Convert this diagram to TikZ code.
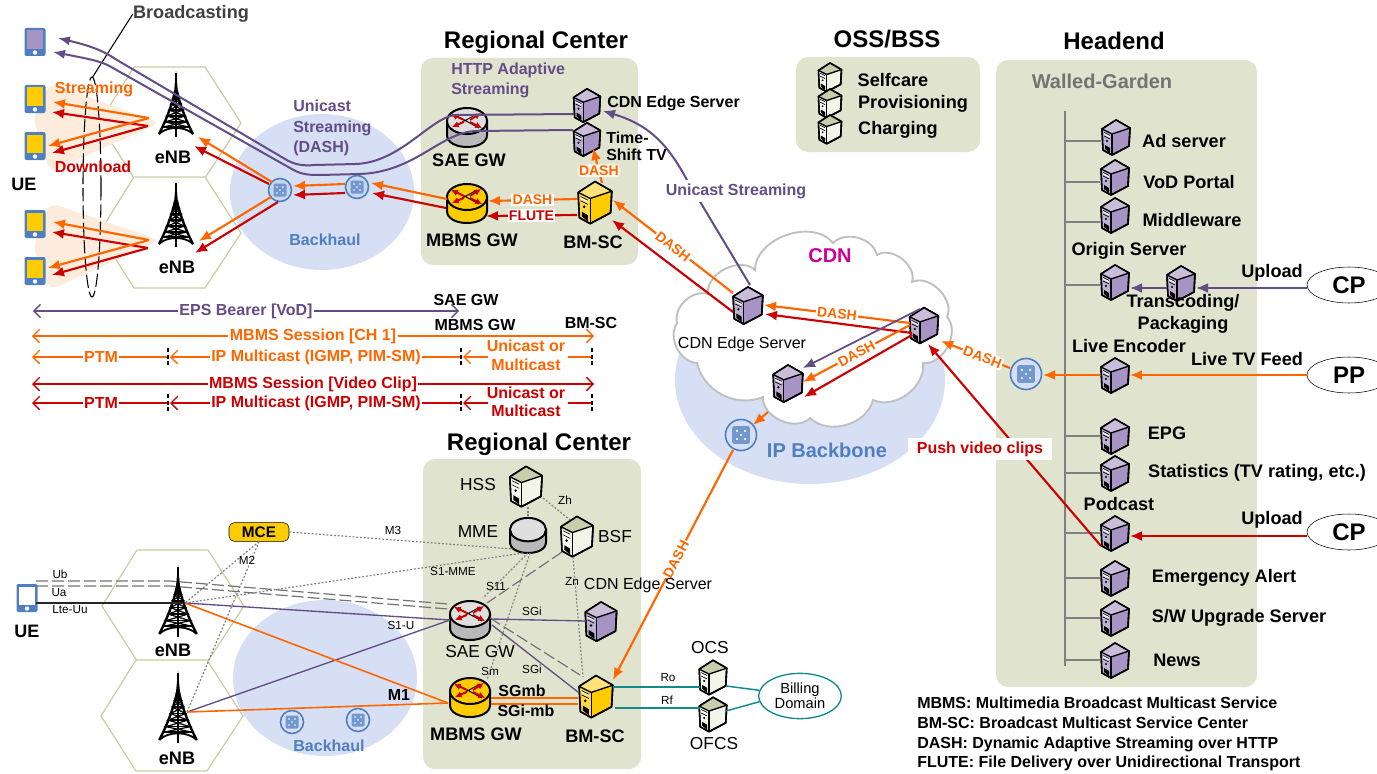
\documentclass[tikz,border=0pt]{standalone}
\usepackage{fontspec}
\setmainfont{Liberation Sans}
\usepackage{tikz}
\usetikzlibrary{arrows.meta}
\usetikzlibrary{shapes.geometric}
\definecolor{panel}{HTML}{E0E4CF}
\definecolor{haze}{HTML}{D6DFF3}
\definecolor{glow}{HTML}{FDEBDC}
\definecolor{hexline}{HTML}{C8CDA0}
\definecolor{cloudline}{HTML}{BFBFBF}
\definecolor{ornge}{HTML}{FF6600}
\definecolor{rd}{HTML}{CC0000}
\definecolor{purp}{HTML}{634D87}
\definecolor{purpfill}{HTML}{A894C4}
\definecolor{purptop}{HTML}{C9BDD9}
\definecolor{blu}{HTML}{4F7FC0}
\definecolor{yel}{HTML}{FFCC00}
\definecolor{yeltop}{HTML}{FFE27A}
\definecolor{teal2}{HTML}{138A8A}
\definecolor{srvlight}{HTML}{F3F5E8}
\definecolor{srvtop}{HTML}{C9CDAB}
\definecolor{mag}{HTML}{CC0099}
\begin{document}
\begin{tikzpicture}[x=0.75pt, y=-0.75pt,
    boldlbl/.style = {font=\bfseries\fontsize{13.6}{15}\selectfont, inner sep=0pt},
    midlbl/.style = {font=\bfseries\fontsize{12}{14}\selectfont, inner sep=0pt},
    reglbl/.style = {font=\fontsize{13}{15}\selectfont, inner sep=0pt},
    smalllbl/.style = {font=\fontsize{8.8}{10}\selectfont, inner sep=0pt},
    headlbl/.style = {font=\bfseries\fontsize{18}{20}\selectfont, inner sep=0pt},
    dashlbl/.style = {font=\bfseries\fontsize{10.5}{13}\selectfont, text=ornge, fill=white, inner sep=1pt},
    panelbox/.style = {fill=panel, rounded corners=9pt},
    srvbox/.style = {minimum width=22pt, minimum height=28pt, inner sep=0pt},
    dotline/.style = {gray, dash pattern=on 1.4pt off 1.4pt, line width=0.9pt},
    gapline/.style = {gray!90!black, dash pattern=on 9pt off 3pt, line width=0.9pt},
    orangeline/.style = {ornge, line width=1.6pt},
    redline/.style = {rd, line width=1.6pt},
    purpleline/.style = {purp, line width=1.5pt},
    tealline/.style = {teal2, line width=1.1pt},
    arrowed/.style = {-{Latex[length=9pt,width=7.5pt]}},
    span/.style = {line width=1pt, -{Straight Barb[length=5pt,width=10pt]}},
    srcnode/.style = {draw, fill=white, ellipse, minimum width=63pt, minimum height=27pt, inner sep=0pt, font=\bfseries\fontsize{18}{20}\selectfont},
    pics/srv/.style n args = {2}{code={
        \filldraw[fill=#1, draw=black, line width=1.2pt, line join=round]
            (-14,-8) -- (0,-17) -- (14,-9) -- (13,9) -- (-4,18) -- (-13,13) -- cycle;
        \fill[#2] (-14,-8) -- (0,-17) -- (14,-9) -- (-4,-3) -- cycle;
        \fill[#1!75!white] (-13.5,-7.5) -- (-4,-3) -- (-4,17) -- (-12.5,12.5) -- cycle;
        \draw[line width=1pt] (-14,-8) -- (-4,-3) -- (14,-9);
        \draw[line width=1pt] (-4,-3) -- (-4,18);
        \draw[black, line width=1.2pt, line join=round] (-14,-8) -- (0,-17) -- (14,-9) -- (13,9) -- (-4,18) -- (-13,13) -- cycle;
        \fill[black] (-11,8) -- (-6,11) -- (-6,16) -- (-11,12) -- cycle;
        \draw[white, line width=1.2pt] (-12,-3.5) -- (-6,-0.5);
        \draw[line width=0.5pt] (-12,-4.5) -- (-6,-1.5) (-12,-1) -- (-6,2);
        \fill[black] (-9,4) circle (1.2);
    }},
    pics/cyl/.style n args = {2}{code={
        \filldraw[fill=#2, draw=black, line width=1.5pt]
            (-20,-6) -- (-20,8) .. controls (-20,24) and (20,24) .. (20,8) -- (20,-6) -- cycle;
        \filldraw[fill=#1, draw=black, line width=1.5pt] (0,-6) ellipse [x radius=20, y radius=13];
    }},
    pics/crossing/.style = {code={
        \draw[black, line width=0.7pt] (-12,-12) -- (12,1) (-12,-1) -- (10,-13);
        \draw[rd, line width=1.4pt, -{Latex[length=5pt,width=5pt]}] (-3,-7) -- (-16,-13);
        \draw[rd, line width=1.4pt, -{Latex[length=5pt,width=5pt]}] (-3,-5) -- (-15,0);
        \draw[rd, line width=1.4pt, -{Latex[length=5pt,width=5pt]}] (3,-7) -- (14,-14);
        \draw[rd, line width=1.4pt, -{Latex[length=5pt,width=5pt]}] (3,-5) -- (15,1);
    }},
    pics/hub/.style = {code={
        \filldraw[fill=#1, draw=blu, line width=1.2pt] (0,0) circle (11.5);
        \fill[blu!80!white, rounded corners=1pt] (-6.5,-6.5) rectangle (6.5,6.5);
        \foreach \dx/\dy in {-3/-3,3/-3,0/0,-3/3,3/3} {\fill[white] (\dx,\dy) circle (0.9);}
    }},
    pics/phone/.style = {code={
        \fill[blu, rounded corners=1.5pt] (-10.5,-14) rectangle (10.5,14);
        \fill[#1] (-8,-11.5) rectangle (8,7);
        \fill[white] (0,10.5) circle (2.2);
    }},
    pics/tower/.style = {code={
        \fill (0,-34) -- (2.6,-6) -- (-2.6,-6) -- cycle;
        \draw[line width=1.8pt, line join=round] (-17,29) .. controls (-8,12) and (-2.5,-6) .. (-1,-14);
        \draw[line width=1.8pt, line join=round] (17,29) .. controls (8,12) and (2.5,-6) .. (1,-14);
        \draw[line width=2.2pt] (0,-32) -- (0,32);
        \draw[line width=1.4pt] (-17,29) .. controls (-9,21) and (9,21) .. (17,29);
        \draw[line width=1.1pt] (-4,-7) -- (4,-7) (-5.5,-1) -- (5.5,-1) (-7,5) -- (7,5) (-9,11) -- (9,11) (-11,17) -- (11,17) (-13,22) -- (13,22);
        \draw[line width=0.9pt] (-4,-7) -- (5.5,-1) -- (-7,5) -- (9,11) -- (-11,17) -- (13,22)
            (4,-7) -- (-5.5,-1) -- (7,5) -- (-9,11) -- (11,17) -- (-13,22);
    }}
  ]
  \useasboundingbox (0,0) rectangle (1377,774);

  % panels and haze
  \fill[panelbox] (421,58) rectangle (638,265);
  \fill[panelbox] (796,57) rectangle (980,152);
  \fill[panelbox] (996,60) rectangle (1257,687);
  \fill[panelbox] (423,459) rectangle (641,769);
  \fill[haze] (322,192) ellipse [x radius=92, y radius=78];
  \fill[haze] (325,678) ellipse [x radius=92, y radius=78];
  \fill[haze] (810,380) ellipse [x radius=135, y radius=104];

  % cells
  \foreach \cx/\cy in {170/123, 170/233, 173/606, 172/716} {
    \draw[hexline, fill=white, line width=0.9pt] (\cx-36,\cy-56) -- (\cx+35,\cy-56) -- (\cx+71,\cy) -- (\cx+35,\cy+55) -- (\cx-36,\cy+55) -- (\cx-71,\cy) -- cycle;
  }
  \fill[glow, rounded corners=6pt] (50,83) -- (160,123) -- (50,172) -- (33,117) -- cycle;
  \fill[glow, rounded corners=6pt] (50,203) -- (160,240) -- (50,290) -- (33,247) -- cycle;

  % cdn cloud
  \draw[cloudline, fill=white, line width=1.4pt] (708,294) to[bend left=70] (755,270) to[bend left=70] (833,243)
      to[bend left=60] (877,255) to[bend left=70] (912,282) to[bend left=70] (947,317) to[bend left=70] (923,363)
      to[bend left=60] (873,400) to[bend left=60] (810,418) to[bend left=70] (763,397) to[bend left=50] (697,363)
      to[bend left=60] (677,323) to[bend left=60] (708,294);

  % headend bus
  \node[inner sep=0pt] (bustop) at (1065,110) {};
  \node[inner sep=0pt] (busend) at (1065,667) {};
  \draw[gray, line width=1.2pt] (bustop) -- (busend);

  % devices
  \node[inner sep=0pt] (ueP) at (35,42) {};   \pic at (ueP) {phone=purpfill};
  \node[inner sep=0pt] (ueA) at (35,99) {};   \pic at (ueA) {phone=yel};
  \node[inner sep=0pt] (ueB) at (35,146) {};  \pic at (ueB) {phone=yel};
  \node[inner sep=0pt] (ueC) at (35,224) {};  \pic at (ueC) {phone=yel};
  \node[inner sep=0pt] (ueD) at (35,271) {};  \pic at (ueD) {phone=yel};
  \node[inner sep=0pt] (ueE) at (27,598) {};  \pic at (ueE) {phone=white};

  \node[inner sep=0pt] (enbA) at (176,105) {};  \pic at (enbA) {tower};
  \node[inner sep=0pt] (enbB) at (176,215) {};  \pic at (enbB) {tower};
  \node[inner sep=0pt] (enbC) at (178,602) {};  \pic[scale=1.1] at (enbC) {tower};
  \node[inner sep=0pt] (enbD) at (178,708) {};  \pic[scale=1.1] at (enbD) {tower};

  \node[inner sep=0pt] (hubA) at (280,190) {};  \pic at (hubA) {hub=haze!50!blu!50!white};
  \node[inner sep=0pt] (hubB) at (357,187) {};  \pic at (hubB) {hub=haze!50!blu!50!white};
  \node[inner sep=0pt] (hubC) at (292,722) {};  \pic at (hubC) {hub=haze};
  \node[inner sep=0pt] (hubD) at (358,720) {};  \pic at (hubD) {hub=haze};
  \node[inner sep=0pt] (hubIP) at (741,435) {}; \pic[scale=1.35] at (hubIP) {hub=haze};
  \node[inner sep=0pt] (hubLive) at (1026,374) {}; \pic[scale=1.35] at (hubLive) {hub=haze};

  \node[inner sep=0pt] (saeTop) at (467,127) {};  \pic at (saeTop) {cyl={gray!25}{gray!55}};  \pic at (saeTop) {crossing};
  \node[inner sep=0pt] (mbmsTop) at (467,203) {}; \pic at (mbmsTop) {cyl={yel}{yel}};         \pic at (mbmsTop) {crossing};
  \node[inner sep=0pt] (saeLow) at (470,620) {};  \pic at (saeLow) {cyl={gray!25}{gray!55}};  \pic at (saeLow) {crossing};
  \node[inner sep=0pt] (mbmsLow) at (470,697) {}; \pic at (mbmsLow) {cyl={yel}{yel}};         \pic at (mbmsLow) {crossing};
  \node[inner sep=0pt] (mme) at (528,535) {};     \pic[scale=0.9] at (mme) {cyl={gray!25}{gray!55}};

  \foreach \name/\x/\y/\sc in {edgeTop/587/105/0.95, shiftTV/587/139/0.95, cdnA/748/305/1.06, cdnB/924/325/1.02, cdnC/788/383/1.06,
      adsrv/1116/137/1, vod/1115/177/1, mware/1115/215/1, origin/1115/282/1, transc/1181/283/1, encoder/1115/375/1,
      epg/1115/436/1, stats/1115/473/1, podcast/1115/533/1, alert/1115/578/1, upgrade/1115/618/1, news/1115/660/1, edgeLow/601/621/1.12} {
    \node[srvbox] (\name) at (\x,\y) {};
    \pic[scale=\sc] at (\name) {srv={purpfill}{purptop}};
  }
  \foreach \name/\x/\y/\sc in {care/830/77/0.82, prov/830/103/0.82, charge/830/129/0.82, hss/526/486/1.15, bsf/577/536/1.15, ocs/713/677/0.98, ofcs/713/714/0.98} {
    \node[srvbox] (\name) at (\x,\y) {};
    \pic[scale=\sc] at (\name) {srv={srvlight}{srvtop}};
  }
  \node[srvbox] (bmTop) at (595,202) {};  \pic[scale=1.2] at (bmTop) {srv={yel}{yeltop}};
  \node[srvbox] (bmLow) at (596,696) {};  \pic[scale=1.2] at (bmLow) {srv={yel}{yeltop}};

  \foreach \name/\y in {adsrv/141, vod/182, mware/222, origin/285, encoder/375, epg/436, stats/473, podcast/533, alert/578, upgrade/618, news/660} {
    \draw[gray, line width=1pt] (\name.west |- 0,\y) -- (1065,\y);
  }

  % broadcast marker
  \node[inner sep=0pt] (bcast) at (92,187) {};
  \node[inner sep=0pt] (bcastTop) at (92,78) {};
  \node[boldlbl, text=black!75] (bcastLbl) at (191,14) {Broadcasting};
  \draw[black, line width=0.8pt, dash pattern=on 10pt off 3pt] (bcast) ellipse [x radius=9, y radius=110];
  \draw[black, line width=0.8pt] (bcastTop) -- (bcastLbl.west);

  % streaming to the phones
  \draw[orangeline, arrowed] ([shift={(-27,13)}]enbA.center) -- ([shift={(18,3)}]ueA.center);
  \draw[redline, arrowed] ([shift={(-28,21)}]enbA.center) -- ([shift={(17,13)}]ueA.center);
  \draw[orangeline, arrowed] ([shift={(-27,13)}]enbA.center) -- ([shift={(13,0)}]ueB.center);
  \draw[redline, arrowed] ([shift={(-28,21)}]enbA.center) -- ([shift={(17,7)}]ueB.center);
  \draw[orangeline, arrowed] ([shift={(-27,25)}]enbB.center) -- ([shift={(18,-2)}]ueC.center);
  \draw[redline, arrowed] ([shift={(-28,33)}]enbB.center) -- ([shift={(17,8)}]ueC.center);
  \draw[orangeline, arrowed] ([shift={(-27,25)}]enbB.center) -- ([shift={(13,-3)}]ueD.center);
  \draw[redline, arrowed] ([shift={(-28,33)}]enbB.center) -- ([shift={(17,4)}]ueD.center);
  % backhaul, upper
  \draw[orangeline, arrowed] ([shift={(-8,-8)}]hubA.center) -- ([shift={(22,32)}]enbA.center);
  \draw[redline, arrowed] ([shift={(-11,-6)}]hubA.center) -- ([shift={(18,41)}]enbA.center);
  \draw[orangeline, arrowed] ([shift={(-9,7)}]hubA.center) -- ([shift={(23,26)}]enbB.center);
  \draw[redline, arrowed] ([shift={(-2,12)}]hubA.center) -- ([shift={(19,38)}]enbB.center);
  \draw[orangeline, arrowed] ([shift={(-12,-3)}]hubB.center) -- ([shift={(13,-4)}]hubA.center);
  \draw[redline, arrowed] ([shift={(-12,6)}]hubB.center) -- ([shift={(13,5)}]hubA.center);
  \draw[orangeline, arrowed] ([shift={(-20,-4)}]mbmsTop.center) -- ([shift={(14,-4)}]hubB.center);
  \draw[redline, arrowed] ([shift={(-21,5)}]mbmsTop.center) -- ([shift={(15,6)}]hubB.center);
  % regional center, upper
  \draw[orangeline, arrowed] ([shift={(-18,-3)}]bmTop.center) -- node[dashlbl, pos=.5] (dashMb) {DASH} ([shift={(21,-2)}]mbmsTop.center);
  \draw[redline, arrowed] ([shift={(-18,13)}]bmTop.center) -- node[font=\bfseries\fontsize{10.5}{13}\selectfont, text=rd, fill=white, inner sep=1pt, pos=.5] (fluteMb) {FLUTE} ([shift={(19,13)}]mbmsTop.center);
  \draw[orangeline, arrowed] ([shift={(7,-19)}]bmTop.center) -- node[dashlbl, fill=white!70!panel, rounded corners=3pt, pos=.35] (dashTv) {DASH} ([shift={(6,9)}]shiftTV.center);
  \draw[orangeline, arrowed] ([shift={(-15,-12)}]cdnA.center) -- node[dashlbl, rotate=-38, pos=.5] (dashCdn) {DASH} ([shift={(18,-2)}]bmTop.center);
  \draw[redline, arrowed] ([shift={(-15,7)}]cdnA.center) -- ([shift={(17,18)}]bmTop.center);
  \draw[purpleline, arrowed] ([shift={(2,-20)}]cdnA.center) -- (687,180) .. controls (668,145) and (650,125) .. ([shift={(16,6)}]edgeTop.center);
  \node[midlbl, text=purp, fill=white, inner xsep=2pt, inner ysep=3pt] (uniLbl) at (736,191) {Unicast Streaming};
  % unicast pair to the phone
  \draw[purpleline, -{Latex[length=9pt,width=7pt]}] ([shift={(-14,9)}]edgeTop.center) -- (455,115) .. controls (430,118) and (400,163) .. (355,164) -- (315,165)
      .. controls (303,166) and (295,165) .. (285,159) -- (117,60) .. controls (105,52) and (95,47) .. ([shift={(23,-4)}]ueP.center);
  \draw[purpleline, -{Latex[length=9pt,width=7pt]}] ([shift={(-14,-9)}]shiftTV.center) -- (475,131) .. controls (440,133) and (415,172) .. (360,174) -- (320,175)
      .. controls (306,175) and (300,174) .. (290,168) -- (113,68) .. controls (103,62) and (95,60) .. ([shift={(18,10)}]ueP.center);

  % inside the cdn
  \draw[orangeline, arrowed] ([shift={(-14,-2)}]cdnB.center) -- node[dashlbl, rotate=-7, pos=.5] (dashAB) {DASH} ([shift={(16,0)}]cdnA.center);
  \draw[redline, arrowed] ([shift={(-12,8)}]cdnB.center) -- ([shift={(17,9)}]cdnA.center);
  \draw[purp, line width=1.3pt, arrowed] ([shift={(-4,-16)}]cdnB.center) -- ([shift={(15,-15)}]cdnC.center);
  \draw[orangeline, arrowed] ([shift={(-14,0)}]cdnB.center) -- node[dashlbl, rotate=28, pos=.5] (dashBC) {DASH} ([shift={(15,-1)}]cdnC.center);
  \draw[redline, arrowed] ([shift={(-12,10)}]cdnB.center) -- ([shift={(16,14)}]cdnC.center);
  \draw[orangeline, arrowed] ([shift={(-16,-6)}]hubLive.center) -- node[dashlbl, rotate=-21, pos=.4] (dashLive) {DASH} ([shift={(17,16)}]cdnB.center);
  \draw[orangeline, arrowed] ([shift={(-20,29)}]cdnC.center) -- ([shift={(12,-10)}]hubIP.center);
  \draw[orangeline, arrowed] (encoder.west) -- ([shift={(17,1)}]hubLive.center);
  \draw[redline, arrowed] ([shift={(-14,13)}]podcast.center) -- ([shift={(4,19)}]cdnB.center);
  \node[midlbl, text=rd, fill=white, minimum width=108pt, minimum height=17pt] (pushLbl) at (980,449) {Push video clips};
  \draw[orangeline, arrowed] ([shift={(-8,15)}]hubIP.center) -- node[dashlbl, rotate=62, pos=.475] (dashLow) {DASH} ([shift={(17,-16)}]bmLow.center);

  % sources
  \node[srcnode] (cpA) at (1349,285) {CP};
  \node[srcnode] (pp) at (1349,375) {PP};
  \node[srcnode] (cpB) at (1349,532) {CP};
  \draw[purp, line width=1.6pt, arrowed] ([shift={(0,3)}]cpA.west) -- ([shift={(15,5)}]transc.center);
  \draw[purp, line width=1.6pt, arrowed] ([shift={(-14,5)}]transc.center) -- ([shift={(15,6)}]origin.center);
  \draw[orangeline, arrowed] (pp.west) -- (encoder.east);
  \draw[redline, arrowed] ([shift={(0,4)}]cpB.west) -- ([shift={(15,3)}]podcast.center);

  % lower regional center
  \draw[gapline] ([shift={(9,-17)}]ueE.center) -- (170,581) -- ([shift={(-22,-16)}]saeLow.center);
  \draw[gapline] ([shift={(9,-12)}]ueE.center) -- (170,586) -- ([shift={(-22,-11)}]saeLow.center);
  \draw[black!85, line width=1pt] ([shift={(9,5)}]ueE.center) -- ([shift={(5,1)}]enbC.center);
  \draw[purp, line width=1pt] ([shift={(7,1)}]enbC.center) -- ([shift={(-20,0)}]saeLow.center);
  \draw[purp, line width=1pt] ([shift={(9,4)}]enbD.center) -- ([shift={(-20,0)}]saeLow.center);
  \draw[ornge, line width=1.2pt] ([shift={(7,1)}]enbC.center) -- ([shift={(-22,6)}]mbmsLow.center);
  \draw[ornge, line width=1.2pt] ([shift={(9,4)}]enbD.center) -- ([shift={(-22,6)}]mbmsLow.center);
  \node[draw=black, fill=yel, rounded corners=4pt, minimum width=45pt, minimum height=14pt, inner sep=0pt, font=\bfseries\fontsize{11.5}{13}\selectfont] (mce) at (259,532) {MCE};
  \draw[dotline] (mce.east) -- ([shift={(-15,14)}]mme.center);
  \draw[dotline] ([shift={(7,1)}]enbC.center) -- ([shift={(-5,18)}]mme.center);
  \draw[dotline] (mce.south) -- ([shift={(7,1)}]enbC.center);
  \draw[dotline] (mce.south) -- ([shift={(9,4)}]enbD.center);
  \draw[dotline] ([shift={(0,18)}]mme.center) -- ([shift={(13,-22)}]saeLow.center);
  \draw[dotline] ([shift={(2,18)}]mme.center) -- ([shift={(17,-17)}]mbmsLow.center);
  \draw[dotline] ([shift={(2,21)}]hss.center) -- ([shift={(0,-17)}]mme.center);
  \draw[dotline] ([shift={(17,12)}]hss.center) -- ([shift={(-7,-16)}]bsf.center);
  \draw[dotline] ([shift={(-4,21)}]bsf.center) -- ([shift={(-13,-19)}]bmLow.center);
  \draw[gapline] ([shift={(-15,16)}]bsf.center) -- ([shift={(17,-17)}]saeLow.center);
  \draw[gapline] ([shift={(20,-2)}]saeLow.center) -- ([shift={(-16,-21)}]bmLow.center);
  \draw[purp, line width=1pt] ([shift={(21,-1)}]saeLow.center) -- (edgeLow.west);
  \draw[purp, line width=1pt] ([shift={(22,5)}]saeLow.center) -- ([shift={(-18,-4)}]bmLow.center);
  \draw[ornge, line width=1.2pt] ([shift={(21,1)}]mbmsLow.center) -- ([shift={(-18,2)}]bmLow.center);
  \draw[ornge, line width=1.2pt] ([shift={(21,7)}]mbmsLow.center) -- ([shift={(-18,8)}]bmLow.center);
  \node[draw=teal2, fill=white, ellipse, line width=1pt, minimum width=62pt, minimum height=34pt, inner sep=0pt, align=center, font=\fontsize{11}{11.5}\selectfont] (billing) at (800,696) {Billing\\Domain};
  \draw[tealline] ([shift={(17,-9)}]bmLow.center) -- ([shift={(-13,10)}]ocs.center);
  \draw[tealline] ([shift={(19,12)}]bmLow.center) -- ([shift={(-13,-6)}]ofcs.center);
  \draw[tealline] ([shift={(13,9)}]ocs.center) -- (billing.172);
  \draw[tealline] ([shift={(13,-3)}]ofcs.center) -- (billing.188);

  % timelines
  \node[midlbl, text=purp, fill=white, inner xsep=1pt] (bearerLbl) at (246,311) {EPS Bearer [VoD]};
  \node[inner sep=0pt] (bearerL) at (32,311) {};
  \node[inner sep=0pt] (bearerR) at (460,311) {};
  \draw[purp, span] (bearerLbl.west) -- (bearerL);
  \draw[purp, span] (bearerLbl.east) -- (bearerR);
  \foreach \clr/\yy/\ss/\rowy/\uy/\my/\sfx in {ornge/336/{MBMS Session [CH 1]}/357/346/365/O, rd/384/{MBMS Session [Video Clip]}/403/393/411/R} {
    \node[midlbl, text=\clr, fill=white, inner xsep=1pt] (sess\sfx) at (313,\yy) {\ss};
    \draw[\clr, span] (sess\sfx.west) -- (32,\yy);
    \draw[\clr, span] (sess\sfx.east) -- (594,\yy);
    \node[midlbl, text=\clr, fill=white, inner xsep=1pt] (ptm\sfx) at (101,\rowy) {PTM};
    \node[midlbl, text=\clr, fill=white, inner xsep=1pt] (ipm\sfx) at (316,\rowy) {IP Multicast (IGMP, PIM-SM)};
    \node[midlbl, text=\clr, inner xsep=1pt] (uni\sfx) at (526,\uy) {Unicast or};
    \node[midlbl, text=\clr, inner xsep=1pt] (mul\sfx) at (526,\my) {Multicast};
    \draw[\clr, line width=1pt] (168,\rowy) -- (ptm\sfx.east);
    \draw[\clr, span] (ptm\sfx.west) -- (32,\rowy);
    \draw[\clr, line width=1pt] (461,\rowy) -- (ipm\sfx.east);
    \draw[\clr, span] (ipm\sfx.west) -- (170,\rowy);
    \draw[\clr, span] (488,\rowy) -- (463,\rowy);
    \draw[\clr, line width=1pt] (592,\rowy) -- (568,\rowy);
    \draw[black, densely dashed, line width=0.8pt] (168,\rowy-9) -- (168,\rowy+9);
    \draw[black, densely dashed, line width=0.8pt] (461,\rowy-9) -- (461,\rowy+9);
    \draw[black, densely dashed, line width=0.8pt] (592,\rowy-9) -- (592,\rowy+9);
  }
  \node[midlbl] (timeSae) at (466,300) {SAE GW};
  \node[midlbl] (timeMbms) at (475,325) {MBMS GW};
  \node[midlbl] (timeBm) at (591,323) {BM-SC};

  % titles and texts
  \node[headlbl] (rcTop) at (536,42) {Regional Center};
  \node[headlbl] (rcLow) at (539,444) {Regional Center};
  \node[headlbl] (ossLbl) at (887,39) {OSS/BSS};
  \node[headlbl] (headLbl) at (1114,41) {Headend};
  \node[font=\bfseries\fontsize{15}{17}\selectfont, text=black!55, inner sep=0pt] (walled) at (1102,81) {Walled-Garden};
  \node[midlbl, text=ornge] (streamLbl) at (94,89) {Streaming};
  \node[midlbl, text=rd] (downLbl) at (93,167) {Download};
  \node[headlbl, font=\bfseries\fontsize{13.5}{15}\selectfont] (ueTop) at (24,184) {UE};
  \node[headlbl, font=\bfseries\fontsize{13.5}{15}\selectfont] (ueLow) at (27,631) {UE};
  \node[midlbl, text=purp, align=left, anchor=north west, font=\bfseries\fontsize{12}{15.2}\selectfont] (uniDash) at (293,100) {Unicast\\Streaming\\(DASH)};
  \node[midlbl, text=purp, align=left, anchor=north west, font=\bfseries\fontsize{12}{14.4}\selectfont] (httpLbl) at (451,63) {HTTP Adaptive\\Streaming};
  \node[midlbl, text=blu] (backTop) at (325,240) {Backhaul};
  \node[midlbl, text=blu] (backLow) at (329,746) {Backhaul};
  \node[font=\bfseries\fontsize{15}{17}\selectfont, text=blu, inner sep=0pt] (ipLbl) at (827,450) {IP Backbone};
  \node[font=\bfseries\fontsize{15}{17}\selectfont, text=mag, inner sep=0pt] (cdnLbl) at (830,256) {CDN};
  \node[font=\fontsize{12}{14}\selectfont, inner sep=0pt] (cdnEdge) at (742,344) {CDN Edge Server};
  \foreach \name/\x/\y/\txt in {enbLblA/173/157/eNB, enbLblB/177/267/eNB, enbLblC/173/650/eNB, enbLblD/177/758/eNB,
      saeLbl/469/160/SAE GW, mbmsLbl/472/240/MBMS GW, bmLbl/593/242/BM-SC, mbmsLowLbl/476/734/MBMS GW, bmLowLbl/595/736/BM-SC,
      careLbl/893/80/Selfcare, provLbl/913/104/Provisioning, chargeLbl/898/130/Charging,
      adLbl/1184/141/Ad server, vodLbl/1189/182/VoD Portal, mwareLbl/1192/220/Middleware, originLbl/1129/251/Origin Server,
      upA/1272/273/Upload, liveLbl/1129/346/Live Encoder, feedLbl/1247/359/Live TV Feed, epgLbl/1167/433/EPG,
      statsLbl/1257/473/{Statistics (TV rating, etc.)}, podLbl/1119/504/Podcast, upB/1272/520/Upload,
      alertLbl/1224/578/Emergency Alert, upgLbl/1239/618/{S/W Upgrade Server}, newsLbl/1177/660/News} {
    \node[boldlbl] (\name) at (\x,\y) {\txt};
  }
  \node[boldlbl, font=\bfseries\fontsize{13.6}{17}\selectfont, align=center] (transLbl) at (1183,314) {Transcoding/\\Packaging};
  \node[midlbl, anchor=west] (edgeLbl) at (607,103) {CDN Edge Server};
  \node[midlbl, anchor=west, align=left, font=\bfseries\fontsize{12}{12.5}\selectfont] (tvLbl) at (606,146) {Time-\\Shift TV};
  \foreach \name/\x/\y/\txt in {hssLbl/478/485/HSS, mmeLbl/478/532/MME, bsfLbl/615/537/BSF,
      saeLowLbl/480/652/SAE GW, ocsLbl/710/648/OCS, ofcsLbl/714/744/OFCS} {
    \node[reglbl] (\name) at (\x,\y) {\txt};
  }
  \node[font=\fontsize{12}{14}\selectfont, inner sep=0pt] (cdnLowLbl) at (648,585) {CDN Edge Server};
  \foreach \name/\x/\y/\txt in {ubLbl/60/574/Ub, uaLbl/59/593/Ua, lteLbl/70/610/Lte-Uu, m2Lbl/247/560/M2, m3Lbl/393/530/M3,
      s1mmeLbl/453/571/S1-MME, s11Lbl/496/586/S11, zhLbl/565/500/Zh, znLbl/572/581/Zn, sgiA/532/611/SGi, sgiB/532/669/SGi,
      smLbl/490/671/Sm, s1uLbl/401/625/S1-U, roLbl/668/678/Ro, rfLbl/667/700/Rf} {
    \node[smalllbl] (\name) at (\x,\y) {\txt};
  }
  \node[midlbl] (m1Lbl) at (399,695) {M1};
  \node[midlbl] (sgmbLbl) at (522,691) {SGmb};
  \node[midlbl] (sgimbLbl) at (526,711) {SGi-mb};
  \node[midlbl, font=\bfseries\fontsize{12}{14.7}\selectfont, anchor=north west, align=left] (legend) at (917,697) {MBMS: Multimedia Broadcast Multicast Service\\BM-SC: Broadcast Multicast Service Center\\DASH: Dynamic Adaptive Streaming over HTTP\\FLUTE: File Delivery over Unidirectional Transport};
\end{tikzpicture}
\end{document}
